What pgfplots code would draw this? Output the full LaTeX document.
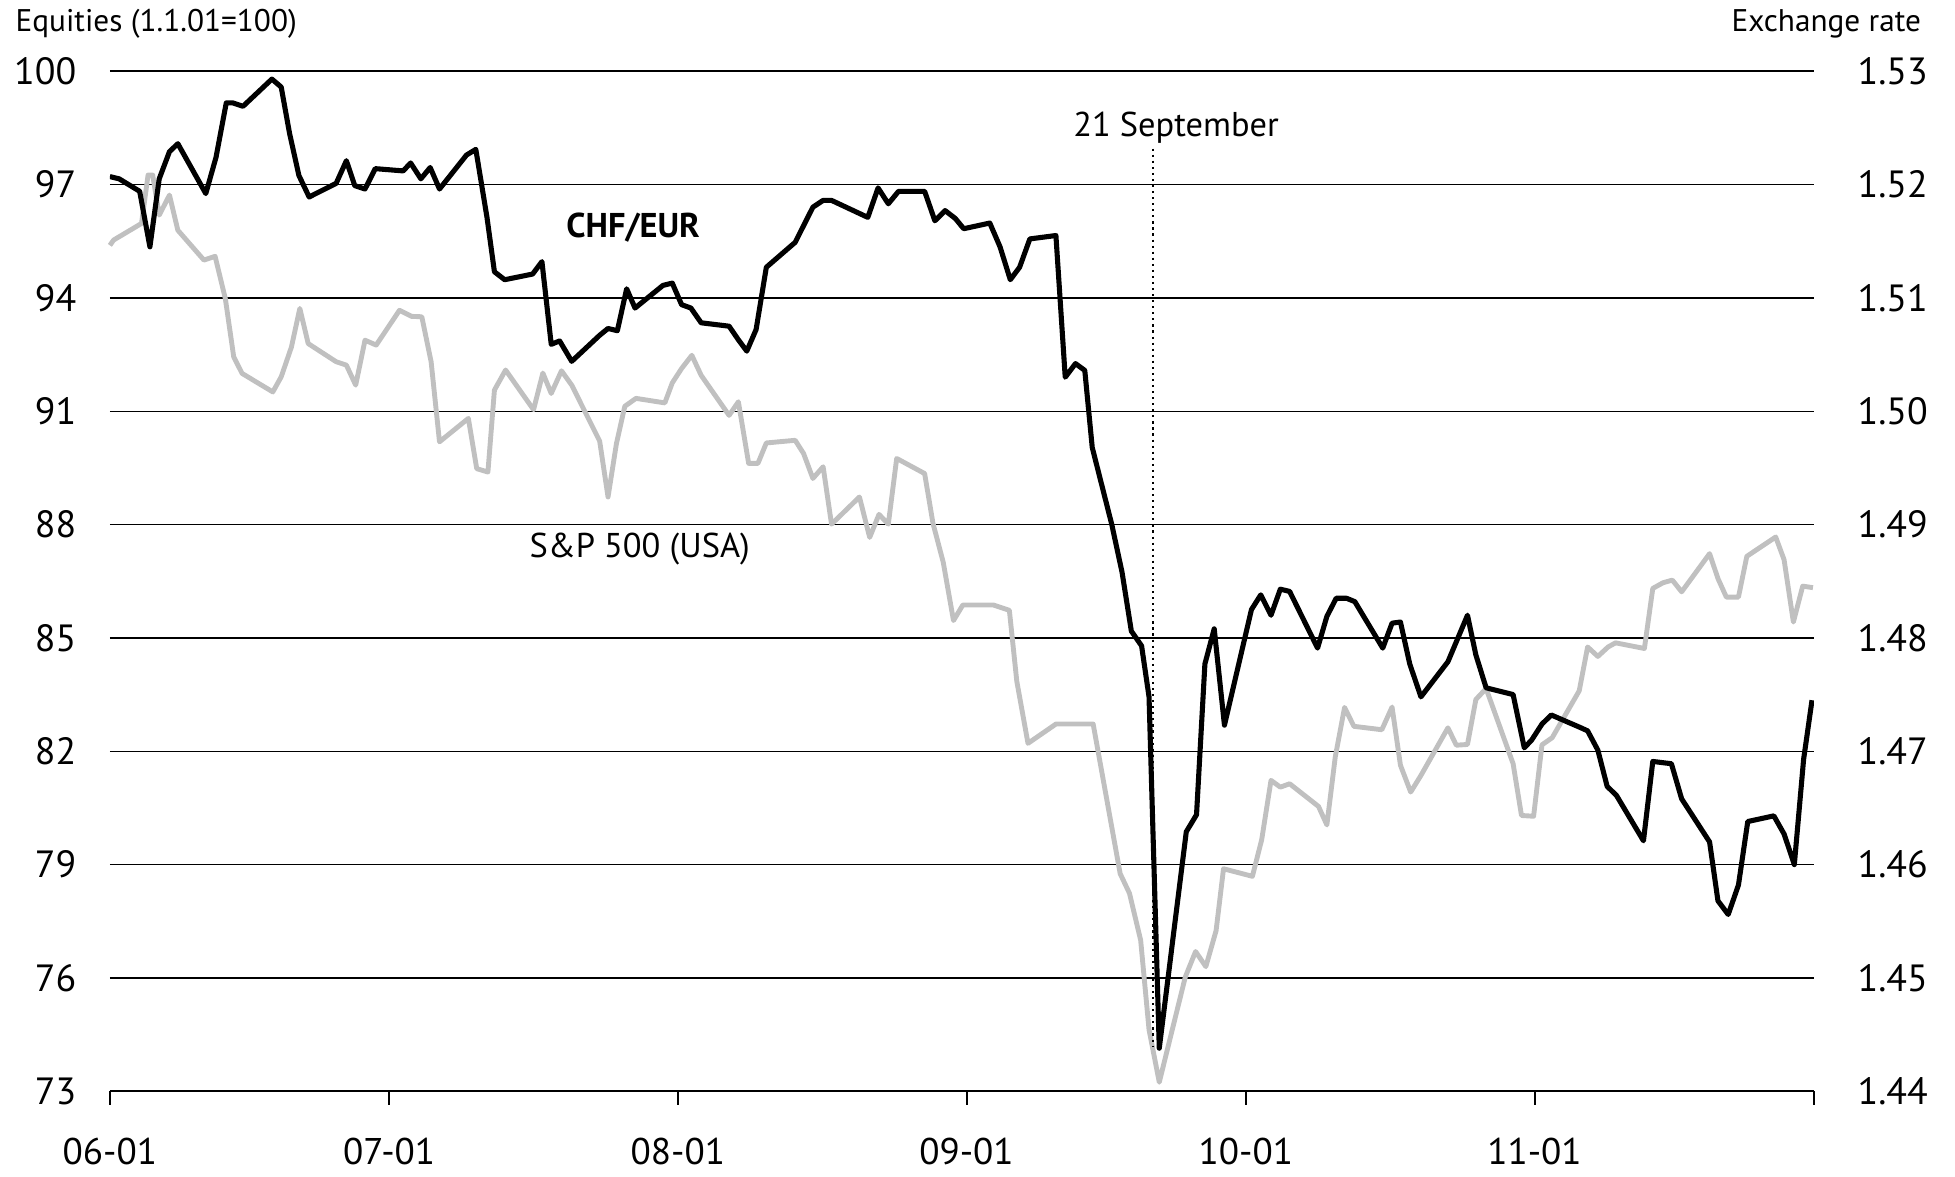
\documentclass[border=0pt]{standalone}
\usepackage{fontspec}
\setmainfont{PT Sans}
\usepackage{pgfplots}
\pgfplotsset{compat=1.18}
\definecolor{spgrey}{RGB}{192,192,192}

\begin{document}
\begin{tikzpicture}
\useasboundingbox (-28.1pt,-21.7pt) rectangle (471.9pt,279.1pt);
% ---------- Equities (left axis) ----------
\begin{axis}[
  scale only axis, width=435.8pt, height=260.9pt,
  at={(0,0)}, anchor=south west,
  xmin=0, xmax=183, ymin=73, ymax=100,
  clip=false,
  axis x line*=bottom, axis y line*=left,
  x axis line style={line width=0.6pt},
  y axis line style={draw=none},
  ytick={73,76,79,82,85,88,91,94,97,100},
  ytick style={draw=none},
  ymajorgrids, major grid style={black, line width=0.35pt},
  xtick={0,30,61,92,122,153,183},
  xticklabels={06-01,07-01,08-01,09-01,10-01,11-01,{}},
  tick align=outside, major tick length=3.4pt,
  xtick style={black, line width=0.5pt},
  /pgf/number format/assume math mode=true,
  yticklabel style={font=\fontsize{9.7}{11}\selectfont, anchor=east, inner sep=0pt, xshift=-5pt},
  xticklabel style={font=\fontsize{9.5}{11}\selectfont, anchor=center, inner sep=0pt, yshift=-11.9pt},
]
\addplot[spgrey, line width=1.25pt, line join=round] coordinates {
(0,95.39) (0.4,95.53) (3.4,95.97) (4.1,97.25) (4.6,97.25) (5.3,96.19) (6.4,96.72) (7.3,95.79)
(10.1,95.00) (11.3,95.10) (12.4,93.98) (13.3,92.44) (14.2,92.00) (17.5,91.51) (18.4,91.91)
(19.5,92.70) (20.4,93.72) (21.3,92.79) (24.3,92.31) (25.4,92.22) (26.4,91.69) (27.4,92.88)
(28.6,92.75) (31.1,93.67) (32.4,93.51) (33.5,93.50) (34.5,92.31) (35.4,90.19) (38.5,90.81)
(39.4,89.48) (40.6,89.39) (41.3,91.56) (42.5,92.09) (45.5,91.04) (46.5,92.01) (47.4,91.47)
(48.5,92.07) (49.6,91.69) (52.6,90.21) (53.5,88.73) (54.4,90.14) (55.3,91.13) (56.5,91.34)
(59.6,91.22) (60.4,91.75) (61.4,92.13) (62.5,92.48) (63.5,91.95) (66.5,90.89) (67.5,91.25)
(68.6,89.62) (69.6,89.62) (70.5,90.16) (73.6,90.23) (74.5,89.88) (75.5,89.22) (76.6,89.53)
(77.5,88.01) (80.5,88.73) (81.6,87.66) (82.6,88.27) (83.6,88.01) (84.5,89.75) (87.5,89.35)
(88.4,88.03) (89.5,87.00) (90.6,85.46) (91.6,85.87) (94.9,85.87) (96.6,85.73) (97.4,83.85)
(98.6,82.21) (101.6,82.72) (105.6,82.72) (108.5,78.76) (109.5,78.24) (110.7,77.00) (111.6,74.63)
(112.7,73.24) (115.5,76.03) (116.6,76.70) (117.7,76.30) (118.8,77.25) (119.6,78.89) (122.7,78.69)
(123.7,79.66) (124.7,81.23) (125.7,81.05) (126.7,81.14) (129.8,80.54) (130.7,80.05) (131.6,81.85)
(132.6,83.16) (133.6,82.66) (136.6,82.57) (137.7,83.17) (138.6,81.63) (139.7,80.92) (140.8,81.36)
(143.7,82.62) (144.6,82.16) (145.8,82.18) (146.7,83.37) (147.8,83.66) (150.7,81.67) (151.6,80.30)
(152.9,80.28) (153.8,82.17) (154.9,82.36) (157.8,83.60) (158.7,84.76) (159.8,84.51) (160.9,84.76)
(161.7,84.87) (164.8,84.72) (165.7,86.31) (166.8,86.46) (167.8,86.53) (168.8,86.22) (171.8,87.23)
(172.7,86.57) (173.6,86.08) (174.9,86.08) (175.8,87.16) (178.9,87.67) (179.8,87.07) (180.8,85.42)
(181.8,86.37) (182.9,86.33)
};
\addplot[black, line width=0.55pt, densely dotted] coordinates {(112,97.95) (112,74.2)};
\node[anchor=base, font=\fontsize{8.8}{10}\selectfont] at (axis cs:114.5,98.26) {21 September};
\node[anchor=base, font=\fontsize{8.8}{10}\selectfont\bfseries] at (axis cs:56.2,95.61) {CHF/EUR};
\node[anchor=base, font=\fontsize{8.8}{10}\selectfont] at (axis cs:56.9,87.14) {S\&P 500 (USA)};
\node[anchor=base west, inner sep=0pt, font=\fontsize{8}{10}\selectfont] at (rel axis cs:0,1) [xshift=-24.3pt, yshift=10.05pt] {Equities (1.1.01=100)};
\node[anchor=base east, inner sep=0pt, font=\fontsize{8}{10}\selectfont] at (rel axis cs:1,1) [xshift=27.6pt, yshift=10.05pt] {Exchange rate};
\end{axis}
% ---------- Exchange rate (right axis) ----------
\begin{axis}[
  scale only axis, width=435.8pt, height=260.9pt,
  at={(0,0)}, anchor=south west,
  xmin=0, xmax=183, ymin=1.44, ymax=1.53,
  axis x line=none, axis y line*=right,
  y axis line style={draw=none},
  ytick={1.44,1.45,1.46,1.47,1.48,1.49,1.50,1.51,1.52,1.53},
  ytick style={draw=none},
  /pgf/number format/.cd, fixed, precision=2, fixed zerofill, assume math mode=true,
  /pgfplots/.cd,
  yticklabel style={font=\fontsize{9.7}{11}\selectfont, anchor=west, inner sep=0pt, xshift=11pt},
]
\addplot[black, line width=1.3pt, line join=round] coordinates {
(0,1.5207) (1,1.5205) (3.2,1.5194) (4.3,1.5145) (5.3,1.5205) (6.4,1.5229) (7.3,1.5236)
(10.3,1.5192) (11.4,1.5224) (12.5,1.5272) (13.2,1.5272) (14.3,1.5269) (17.4,1.5293) (18.4,1.5286)
(19.3,1.5245) (20.3,1.5208) (21.4,1.5189) (24.3,1.5201) (25.4,1.5221) (26.3,1.5199) (27.4,1.5196)
(28.5,1.5214) (31.5,1.5212) (32.3,1.5219) (33.4,1.5205) (34.4,1.5215) (35.4,1.5196) (38.3,1.5226)
(39.3,1.5231) (40.5,1.5171) (41.3,1.5123) (42.4,1.5116) (45.4,1.5121) (46.4,1.5132) (47.4,1.5059)
(48.3,1.5062) (49.6,1.5044) (52.6,1.5067) (53.5,1.5073) (54.5,1.5071) (55.5,1.5108) (56.4,1.5091)
(59.4,1.5111) (60.4,1.5113) (61.4,1.5094) (62.4,1.5091) (63.5,1.5078) (66.5,1.5075) (67.5,1.5063)
(68.4,1.5053) (69.4,1.5072) (70.5,1.5127) (73.6,1.5149) (75.5,1.5180) (76.6,1.5186) (77.5,1.5186)
(81.4,1.5171) (82.5,1.5197) (83.6,1.5183) (84.7,1.5194) (87.5,1.5194) (88.6,1.5168) (89.7,1.5177)
(90.8,1.5170) (91.7,1.5161) (94.5,1.5166) (95.6,1.5145) (96.7,1.5116) (97.7,1.5127) (98.8,1.5152)
(101.6,1.5155) (102.6,1.5030) (103.7,1.5042) (104.7,1.5036) (105.5,1.4968) (107.6,1.4900)
(108.7,1.4858) (109.7,1.4806) (110.8,1.4793) (111.6,1.4748) (112.7,1.4438) (115.6,1.4629)
(116.7,1.4644) (117.6,1.4777) (118.6,1.4808) (119.7,1.4723) (122.6,1.4825) (123.6,1.4838)
(124.7,1.4820) (125.7,1.4843) (126.7,1.4841) (129.7,1.4791) (130.7,1.4819) (131.7,1.4835)
(132.8,1.4835) (133.7,1.4832) (136.7,1.4791) (137.7,1.4813) (138.6,1.4814) (139.6,1.4777)
(140.8,1.4748) (143.7,1.4779) (145.8,1.4820) (146.7,1.4785) (147.8,1.4756) (150.7,1.4750)
(151.9,1.4703) (152.7,1.4710) (153.8,1.4724) (154.8,1.4732) (157.9,1.4721) (158.7,1.4718)
(159.8,1.4701) (160.8,1.4669) (161.8,1.4661) (164.7,1.4621) (165.7,1.4691) (167.7,1.4689)
(168.8,1.4658) (171.8,1.4620) (172.7,1.4568) (173.8,1.4556) (174.9,1.4582) (175.9,1.4638)
(178.7,1.4643) (179.8,1.4627) (180.9,1.4600) (181.9,1.4693) (182.8,1.4745)
};
\end{axis}
\end{tikzpicture}
\end{document}
